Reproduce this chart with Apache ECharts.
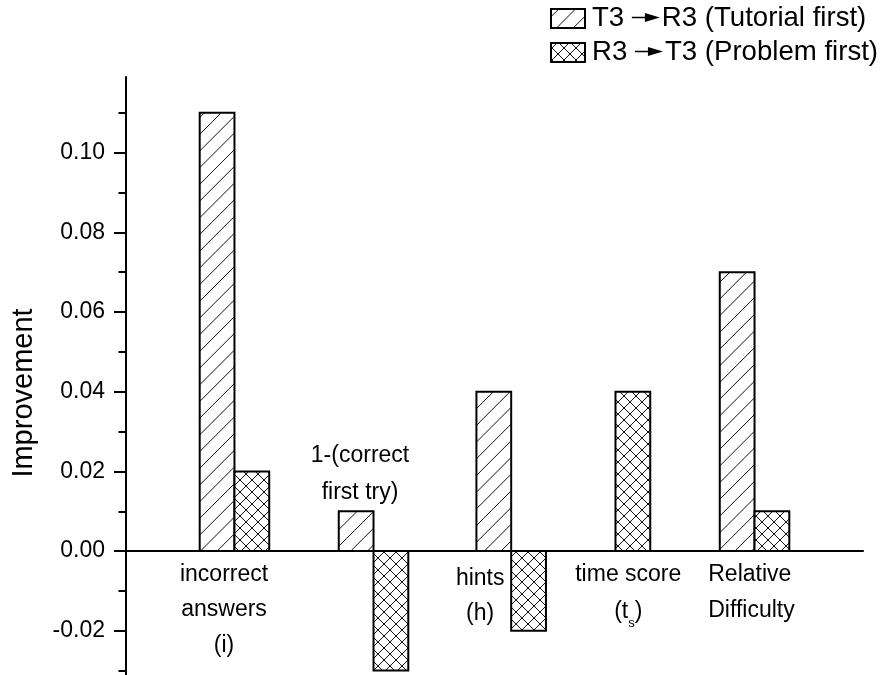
<!DOCTYPE html>
<html>
<head>
<meta charset="utf-8">
<script src="https://cdn.jsdelivr.net/npm/echarts@6/dist/echarts.min.js"></script>
<style>
  html, body { margin: 0; padding: 0; background: #fff; }
  #chart { width: 888px; height: 675px; }
</style>
</head>
<body>
<div id="chart"></div>
<script>
// Improvement per measure, for the two orderings of tutorial (T3) and problem (R3)
const categories = ['incorrect answers (i)', '1-(correct first try)', 'hints (h)', 'time score (ts)', 'Relative Difficulty'];
const groupPos = [0.78, 1.78, 2.77, 3.52, 4.52];           // x position of each category pair
const tutorialFirst = [0.11, 0.01, 0.04, 0, 0.07];         // T3 -> R3
const problemFirst = [0.02, -0.03, -0.02, 0.04, 0.01];     // R3 -> T3
const yTicks = [-0.02, 0.00, 0.02, 0.04, 0.06, 0.08, 0.10];
const yMinorTicks = [-0.03, -0.01, 0.01, 0.03, 0.05, 0.07, 0.09, 0.11];
// legend names, split around the arrow that is drawn between the two parts
const seriesNames = [['T3', 'R3 (Tutorial first)'], ['R3', 'T3 (Problem first)']];

// category captions, placed in axis coordinates
const captions = [
  { text: 'incorrect\nanswers\n(i)', x: 0.705, y: -0.0147, lh: 35.5, align: 'center' },
  { text: '1-(correct\nfirst try)', x: 1.683, y: 0.0194, lh: 37, align: 'center' },
  { text: 'hints\n(h)', x: 2.547, y: -0.0112, lh: 35, align: 'center' },
  { text: 'time score\n(t{sub|s})', x: 3.612, y: -0.0106, lh: 36.5, align: 'center' },
  { text: 'Relative\nDifficulty', x: 4.187, y: -0.0105, lh: 36, align: 'left' }
];

const FONT = '"Liberation Sans", Arial, Helvetica, sans-serif';
const LEGEND_SIZE = 27.6;
const BAR_W = 0.25;
const HATCH = [16.7, 12];  // line spacing (px) for single and cross hatch

// segments of 45-degree lines clipped to a rectangle; dir 1 = '/', -1 = '\'
function hatch(x0, y0, x1, y1, d, dir) {
  const segs = [];
  if (dir === 1) {
    for (let c = Math.ceil((x0 + y0) / d) * d; c <= x1 + y1; c += d) {
      const xa = Math.max(x0, c - y1), xb = Math.min(x1, c - y0);
      if (xb - xa > 0.3) segs.push([xa, c - xa, xb, c - xb]);
    }
  } else {
    for (let c = Math.ceil((y0 - x1) / d) * d; c <= y1 - x0; c += d) {
      const xa = Math.max(x0, y0 - c), xb = Math.min(x1, y1 - c);
      if (xb - xa > 0.3) segs.push([xa, xa + c, xb, xb + c]);
    }
  }
  return segs;
}

function hatchedBox(x0, y0, x1, y1, cross) {
  const children = [{
    type: 'rect', shape: { x: x0, y: y0, width: x1 - x0, height: y1 - y0 },
    style: { fill: '#fff', stroke: null }
  }];
  const fams = cross ? [1, -1] : [1];
  fams.forEach(function (dir) {
    hatch(x0, y0, x1, y1, cross ? HATCH[1] : HATCH[0], dir).forEach(function (s) {
      children.push({
        type: 'line', shape: { x1: s[0], y1: s[1], x2: s[2], y2: s[3] },
        style: { stroke: '#111', lineWidth: 1 }
      });
    });
  });
  children.push({
    type: 'rect', shape: { x: x0, y: y0, width: x1 - x0, height: y1 - y0 },
    style: { fill: null, stroke: '#000', lineWidth: 2 }
  });
  return children;
}

function renderBar(params, api) {
  const v = api.value(1);
  if (!v) return null;
  const xc = api.value(0);
  const left = params.seriesIndex === 0 ? xc - BAR_W : xc;
  const p0 = api.coord([left, v]);
  const p1 = api.coord([left + BAR_W, 0]);
  const x0 = Math.min(p0[0], p1[0]), x1 = Math.max(p0[0], p1[0]);
  const y0 = Math.min(p0[1], p1[1]), y1 = Math.max(p0[1], p1[1]);
  return { type: 'group', children: hatchedBox(x0, y0, x1, y1, params.seriesIndex === 1) };
}

const measureCtx = document.createElement('canvas').getContext('2d');
function textWidth(s, size) {
  measureCtx.font = size + 'px ' + FONT;
  return measureCtx.measureText(s).width;
}

function legendItem(y, idx) {
  const parts = seriesNames[idx];
  const textStyle = { verticalAlign: 'middle', align: 'left', fontFamily: FONT, fontSize: LEGEND_SIZE, fill: '#000' };
  const tx = 592;
  const ax = tx + textWidth(parts[0] + ' ', LEGEND_SIZE);
  const ay = y - 1;
  return {
    type: 'group',
    children: hatchedBox(551, y - 9.5, 585, y + 9.5, idx === 1).concat([
      { type: 'text', style: Object.assign({ text: parts[0], x: tx, y: y }, textStyle) },
      { type: 'line', shape: { x1: ax, y1: ay, x2: ax + 15, y2: ay }, style: { stroke: '#000', lineWidth: 1.5 } },
      { type: 'polygon', shape: { points: [[ax + 13, ay - 4.5], [ax + 13, ay + 4.5], [ax + 28, ay]] }, style: { fill: '#000' } },
      { type: 'text', style: Object.assign({ text: parts[1], x: ax + 30, y: y }, textStyle) }
    ])
  };
}

const chart = echarts.init(document.getElementById('chart'), null, { renderer: 'canvas' });

const axisLineStyle = { color: '#000', width: 2 };
const yMin = -0.0311, yMax = 0.119;

chart.setOption({
  animation: false,
  backgroundColor: '#fff',
  grid: { left: 126, right: 25, top: 77, bottom: 0, outerBoundsMode: 'none' },
  xAxis: {
    type: 'value', min: 0, max: 5.3,
    axisLine: { show: true, onZero: true, lineStyle: axisLineStyle },
    axisTick: { show: false }, axisLabel: { show: false }, splitLine: { show: false }
  },
  yAxis: [{
    type: 'value', min: yMin, max: yMax, position: 'left',
    axisLine: { show: true, onZero: false, lineStyle: axisLineStyle },
    axisTick: { show: true, length: 12, customValues: yTicks, lineStyle: axisLineStyle },
    axisLabel: {
      show: true, customValues: yTicks, margin: 21,
      formatter: function (v) { return v.toFixed(2); },
      fontFamily: FONT, fontSize: 23, color: '#000'
    },
    splitLine: { show: false }
  }, {
    type: 'value', min: yMin, max: yMax, position: 'left',
    axisLine: { show: false },
    axisTick: { show: true, length: 7.5, customValues: yMinorTicks, lineStyle: axisLineStyle },
    axisLabel: { show: false }, splitLine: { show: false }
  }],
  series: [{
    name: 'T3 -> R3 (Tutorial first)', type: 'custom', renderItem: renderBar,
    encode: { x: 0, y: 1 }, clip: false,
    data: groupPos.map(function (p, i) { return [p, tutorialFirst[i]]; })
  }, {
    name: 'R3 -> T3 (Problem first)', type: 'custom', renderItem: renderBar,
    encode: { x: 0, y: 1 }, clip: false,
    data: groupPos.map(function (p, i) { return [p, problemFirst[i]]; })
  }, {
    type: 'scatter', symbolSize: 0, silent: true, z: 5,
    itemStyle: { color: '#000', opacity: 1 },
    data: captions.map(function (c) {
      return {
        value: [c.x, c.y],
        label: {
          show: true, position: 'inside', formatter: c.text, align: c.align,
          fontFamily: FONT, fontSize: 23, color: '#000', lineHeight: c.lh, opacity: 1,
          textBorderWidth: 0, textBorderColor: 'transparent',
          rich: { sub: { fontFamily: FONT, fontSize: 13, color: '#000', lineHeight: c.lh, verticalAlign: 'bottom', textBorderWidth: 0 } }
        }
      };
    })
  }],
  graphic: [
    {
      type: 'text', x: 24, y: 393, rotation: Math.PI / 2,
      style: {
        text: 'Improvement', align: 'center', verticalAlign: 'middle',
        fontFamily: FONT, fontSize: 29, fill: '#000'
      }
    },
    legendItem(18.5, 0),
    legendItem(52.5, 1)
  ]
});
</script>
</body>
</html>
